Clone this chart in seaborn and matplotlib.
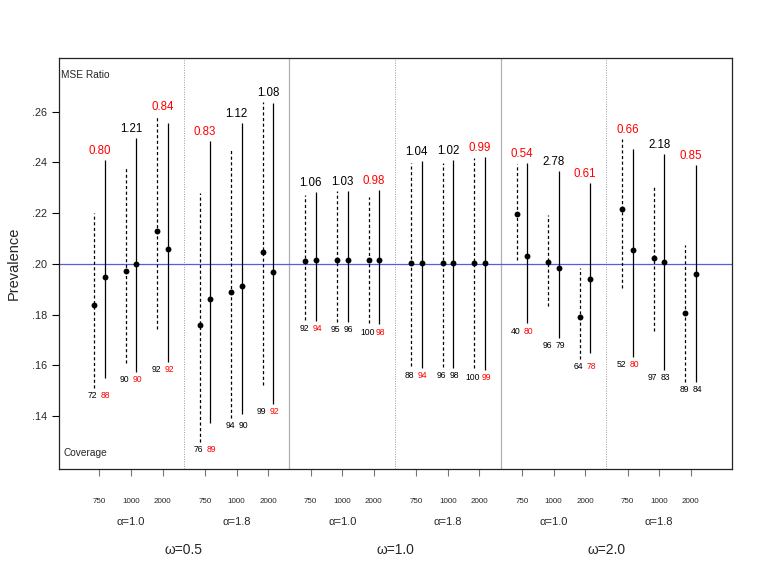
import numpy as np
import pandas as pd
import matplotlib
matplotlib.use("Agg")
import matplotlib.pyplot as plt
import matplotlib.transforms as mtransforms
import seaborn as sns

# --- data ---
sample_sizes = ["750", "1000", "2000"] * 6
alpha_labels = ["α=1.0", "α=1.8"] * 3
omega_labels = ["ω=0.5", "ω=1.0", "ω=2.0"]

# estimator 1 (dashed interval)
est1_mid = [0.1837, 0.1970, 0.2129, 0.1758, 0.1888, 0.2045,
            0.2012, 0.2015, 0.2016, 0.2003, 0.2003, 0.2003,
            0.2196, 0.2007, 0.1791, 0.2214, 0.2024, 0.1807]
est1_lo = [0.1509, 0.1610, 0.1743, 0.1298, 0.1391, 0.1522,
           0.1778, 0.1771, 0.1765, 0.1597, 0.1592, 0.1588,
           0.2015, 0.1833, 0.1624, 0.1903, 0.1736, 0.1533]
est1_hi = [0.2201, 0.2380, 0.2583, 0.2277, 0.2448, 0.2636,
           0.2271, 0.2287, 0.2262, 0.2396, 0.2398, 0.2417,
           0.2392, 0.2192, 0.1982, 0.2490, 0.2301, 0.2074]

# estimator 2 (solid interval)
est2_mid = [0.1948, 0.1998, 0.2057, 0.1862, 0.1911, 0.1966,
            0.2015, 0.2015, 0.2016, 0.2003, 0.2003, 0.2003,
            0.2032, 0.1984, 0.1938, 0.2054, 0.2008, 0.1961]
est2_lo = [0.1548, 0.1574, 0.1614, 0.1371, 0.1406, 0.1447,
           0.1774, 0.1770, 0.1761, 0.1590, 0.1588, 0.1581,
           0.1765, 0.1708, 0.1647, 0.1633, 0.1581, 0.1533]
est2_hi = [0.2409, 0.2497, 0.2553, 0.2484, 0.2555, 0.2635,
           0.2284, 0.2287, 0.2290, 0.2406, 0.2410, 0.2422,
           0.2398, 0.2367, 0.2317, 0.2452, 0.2431, 0.2388]

mse_ratio = ["0.80", "1.21", "0.84", "0.83", "1.12", "1.08",
             "1.06", "1.03", "0.98", "1.04", "1.02", "0.99",
             "0.54", "2.78", "0.61", "0.66", "2.18", "0.85"]
cov1 = [72, 90, 92, 76, 94, 99, 92, 95, 100, 88, 96, 100, 40, 96, 64, 52, 97, 89]
cov2 = [88, 90, 92, 89, 90, 92, 94, 96, 98, 94, 98, 99, 80, 79, 78, 80, 83, 84]
cov2_red = [1, 1, 1, 1, 0, 1, 1, 0, 1, 1, 0, 1, 1, 0, 1, 1, 0, 0]

true_value = 0.20

# --- positions ---
group_gap = 3.342
grp = np.repeat(np.arange(6), 3)
xc = grp * group_gap + np.tile([0, 1, 2], 6)
off = 0.168

df = pd.DataFrame({
    "x": np.concatenate([xc - off, xc + off]),
    "mid": est1_mid + est2_mid,
    "lo": est1_lo + est2_lo,
    "hi": est1_hi + est2_hi,
    "est": ["dashed"] * 18 + ["solid"] * 18,
})

sns.set_theme(style="white")
plt.rcParams["font.family"] = ["Liberation Sans", "DejaVu Sans"]

fig = plt.figure(figsize=(7.61, 5.86), dpi=100)
ax = fig.add_axes([0.0769, 0.2005, 0.8844, 0.7005])

# group dividers
for g in range(5):
    xd = g * group_gap + 2 + (group_gap - 2) / 2
    if g % 2 == 0:
        ax.axvline(xd, color="#9a9a9a", lw=0.7, ls=(0, (1, 1.5)), zorder=0)
    else:
        ax.axvline(xd, color="#b0b0b0", lw=0.9, zorder=0)

ax.axhline(true_value, color="#5a5ae6", lw=0.9, zorder=1)

d1 = df[df["est"] == "dashed"]
d2 = df[df["est"] == "solid"]
ax.vlines(d1["x"], d1["lo"], d1["hi"], colors="black", lw=0.9,
          linestyles=(0, (2.5, 2)), zorder=2)
ax.vlines(d2["x"], d2["lo"], d2["hi"], colors="black", lw=0.9, zorder=2)

sns.scatterplot(data=df, x="x", y="mid", color="black", s=18,
                edgecolor="black", linewidth=0, legend=False, ax=ax, zorder=3)

# MSE ratio labels above, coverage labels below
for i in range(18):
    top = max(est1_hi[i], est2_hi[i])
    bot = min(est1_lo[i], est2_lo[i])
    c = "red" if float(mse_ratio[i]) < 1 else "black"
    ax.annotate(mse_ratio[i], (xc[i], top), xytext=(0, 6.5), textcoords="offset points",
                ha="center", va="center", fontsize=8.3, color=c)
    ax.annotate(str(cov1[i]), (xc[i] - off, bot), xytext=(-0.8, -5.5),
                textcoords="offset points", ha="center", va="center",
                fontsize=6.2, color="black")
    ax.annotate(str(cov2[i]), (xc[i] + off, bot), xytext=(0.8, -5.5),
                textcoords="offset points", ha="center", va="center",
                fontsize=6.2, color="red" if cov2_red[i] else "black")

ax.text(0.004, 0.958, "MSE Ratio", transform=ax.transAxes, fontsize=7.3,
        ha="left", va="center", fontweight="medium")
ax.text(0.008, 0.038, "Coverage", transform=ax.transAxes, fontsize=7.3,
        ha="left", va="center", fontweight="medium")

ax.set_xlim(-1.29, 20.0)
ax.set_ylim(0.1193, 0.2811)

yt = [0.14, 0.16, 0.18, 0.20, 0.22, 0.24, 0.26]
ax.set_yticks(yt)
ax.set_yticklabels([f"{v:.2f}"[1:] for v in yt], fontsize=7.8)
ax.set_xticks(xc)
ax.set_xticklabels(sample_sizes, fontsize=5.8)
ax.tick_params(axis="y", direction="out", length=5, width=0.8, color="black", pad=3,
               left=True)
ax.tick_params(axis="x", direction="out", length=5, width=0.8, color="#777777",
               pad=16, bottom=True)
ax.set_xlabel("")
ax.set_ylabel("Prevalence", fontsize=10.5, labelpad=8)

for s in ax.spines.values():
    s.set_color("#222222")
    s.set_linewidth(0.9)

trans = mtransforms.blended_transform_factory(ax.transData, ax.transAxes)
for g in range(6):
    ax.text(g * group_gap + 1, -0.131, alpha_labels[g], transform=trans,
            ha="center", va="center", fontsize=8)
for w in range(3):
    ax.text((2 * w + 0.5) * group_gap + 1, -0.199, omega_labels[w], transform=trans,
            ha="center", va="center", fontsize=10)

fig.savefig("out.png", dpi=100)
